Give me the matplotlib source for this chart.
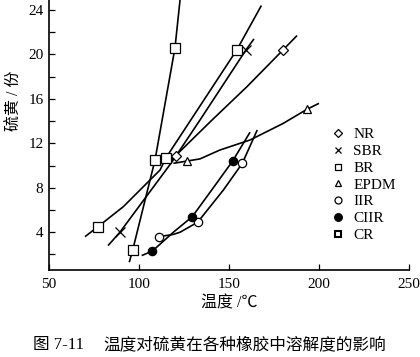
import matplotlib
matplotlib.use("Agg")
import matplotlib.pyplot as plt
from matplotlib.lines import Line2D

plt.rcParams["font.family"] = ["Liberation Serif", "Noto Sans CJK SC"]

# ---------------------------------------------------------------------------
# Data (temperature degC, sulphur parts)
# ---------------------------------------------------------------------------
# line vertices
nr_x = [118.0, 120.4, 140.6, 160.0, 180.0, 187.8]
nr_y = [10.5, 10.9, 14.1, 17.1, 20.4, 21.7]
sbr_x = [82.8, 89.4, 118.2, 133.9, 159.4, 163.9]
sbr_y = [2.8, 4.0, 10.3, 14.1, 20.4, 21.4]
br_x = [94.6, 96.5, 108.9, 120.0, 122.8]
br_y = [1.3, 2.4, 10.5, 20.6, 24.9]
cr_x = [70.0, 77.2, 91.3, 111.7, 115.0, 154.3, 168.0]
cr_y = [3.6, 4.5, 6.3, 9.6, 10.7, 20.4, 24.4]
epdm_x = [119.1, 126.5, 133.9, 145.0, 161.7, 180.2, 193.2, 200.0]
epdm_y = [10.2, 10.4, 10.6, 11.4, 12.3, 13.8, 15.05, 15.6]
iir_x = [111.1, 119.0, 122.8, 132.6, 146.9, 157.4, 165.7]
iir_y = [3.6, 3.8, 4.0, 4.9, 7.8, 10.2, 13.2]
ciir_x = [101.5, 107.4, 119.1, 129.6, 140.4, 152.0, 161.7]
ciir_y = [1.9, 2.3, 4.0, 5.4, 7.8, 10.4, 13.0]

# marker positions
nr_mx, nr_my = [120.4, 180.0], [10.9, 20.4]
sbr_mx, sbr_my = [89.4, 159.4], [4.0, 20.4]
br_mx, br_my = [96.5, 108.9, 120.0], [2.4, 10.5, 20.6]
cr_mx, cr_my = [77.2, 115.0, 154.3], [4.5, 10.7, 20.4]
epdm_mx, epdm_my = [126.5, 193.2], [10.4, 15.05]
iir_mx, iir_my = [111.1, 132.6, 157.4], [3.6, 4.9, 10.2]
ciir_mx, ciir_my = [107.4, 129.6, 152.0], [2.3, 5.4, 10.4]

x_ticks = [50, 100, 150, 200, 250]
y_ticks = [4, 8, 12, 16, 20, 24]

# ---------------------------------------------------------------------------
fig = plt.figure(figsize=(4.2, 3.57), dpi=100)
ax = fig.add_axes([0.1167, 0.2437, 0.857, 0.7563])

LW = 1.2
for xs, ys in [(nr_x, nr_y), (sbr_x, sbr_y), (br_x, br_y), (cr_x, cr_y),
               (epdm_x, epdm_y), (iir_x, iir_y), (ciir_x, ciir_y)]:
    ax.plot(xs, ys, color="black", lw=LW, solid_capstyle="butt", zorder=2)

mk = dict(linestyle="none", color="black", mew=0.9, zorder=3)
ax.plot(nr_mx, nr_my, marker="D", ms=5.5, mfc="white", **mk)
ax.plot(sbr_mx, sbr_my, marker="x", ms=6.5, **mk)
ax.plot(br_mx, br_my, marker="s", ms=6.5, mfc="white", **mk)
ax.plot(cr_mx, cr_my, marker="s", ms=6.5, mfc="white", **mk)
ax.plot(epdm_mx, epdm_my, marker="^", ms=6, mfc="white", **mk)
ax.plot(iir_mx, iir_my, marker="o", ms=6, mfc="white", **mk)
ax.plot(ciir_mx, ciir_my, marker="o", ms=6, mfc="black", **mk)

ax.set_xlim(50, 250)
ax.set_ylim(0.6, 24.9)
ax.set_xticks(x_ticks)
ax.set_yticks(y_ticks)
ax.set_yticks(list(range(2, 25, 2)), minor=True)
ax.tick_params(direction="in", labelsize=11, length=4, width=0.9, pad=6)
ax.tick_params(axis="y", which="minor", direction="in", length=4, width=0.9)
ax.tick_params(axis="y", pad=4)
for sp in ("top", "right"):
    ax.spines[sp].set_visible(False)
for sp in ("bottom", "left"):
    ax.spines[sp].set_linewidth(1.2)

ax.set_ylabel("硫黄 / 份", fontsize=11.5)
ax.yaxis.set_label_coords(-0.072, 0.626)
ax.set_xlabel("温度 /℃", fontsize=11.5)
ax.xaxis.set_label_coords(0.5, -0.096)

# legend
handles = [
    Line2D([], [], marker="D", ms=4.5, mfc="white", **mk),
    Line2D([], [], marker="x", ms=5, **mk),
    Line2D([], [], marker="s", ms=5, mfc="white", **mk),
    Line2D([], [], marker="^", ms=5, mfc="white", **mk),
    Line2D([], [], marker="o", ms=5, mfc="white", **mk),
    Line2D([], [], marker="o", ms=5.5, mfc="black", **mk),
    Line2D([], [], marker="s", ms=5, mfc="white", mec="black", mew=1.5,
           linestyle="none"),
]
labels = ["NR", "SBR", "BR", "EPDM", "IIR", "CIIR", "CR"]
ax.legend(handles, labels, loc="upper left", bbox_to_anchor=(0.765, 0.555),
          frameon=False, fontsize=11, handlelength=0.8, handletextpad=0.6,
          labelspacing=0.2, borderpad=0)

fig.text(0.079, 0.034, "图 7-11", fontsize=12, va="center", ha="left")
fig.text(0.245, 0.034, "温度对硫黄在各种橡胶中溶解度的影响",
         fontsize=12, va="center", ha="left")

fig.savefig("out.png", dpi=100)
